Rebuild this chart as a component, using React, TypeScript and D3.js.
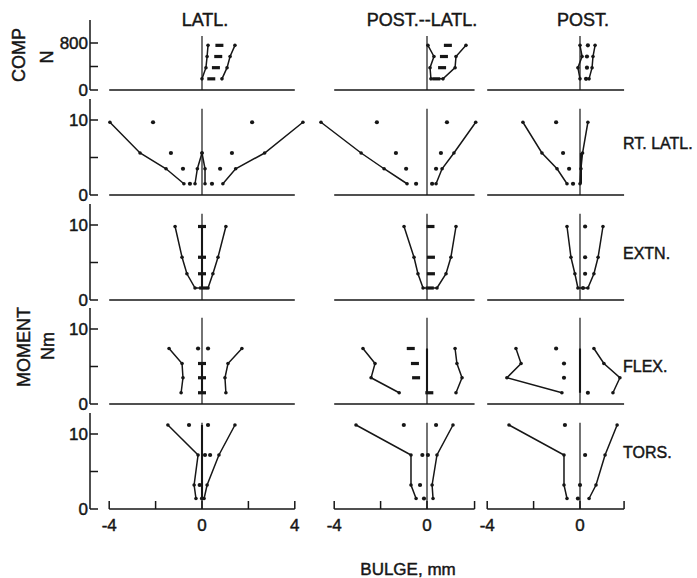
import React, { useEffect, useRef } from "react";
import * as d3 from "d3";

// titles
const columnTitles = ["LATL.", "POST.--LATL.", "POST."];
const rowTitles = ["", "RT. LATL.", "EXTN.", "FLEX.", "TORS."];

// load / moment levels at which bulge was measured
const compLoads = [190, 380, 570, 760];
const rtLatlMoments = [1.5, 3.5, 5.6, 9.7];
const extnMoments = [1.6, 3.5, 5.7, 9.8];
const flexMoments = [1.5, 3.5, 5.4, 7.4];
const torsMoments = [1.4, 3.2, 7.2, 11.2];

// axis ticks
const compTicks = [0, 400, 800];
const momentTicks = [0, 5, 10];
const bulgeTicks = [[-4, -2, 0, 2, 4], [-4, -2, 0, 2.05], [-4, -2, 0, 1.9]];
const bulgeLabels = [[-4, 0, 4], [-4, 0], [-4, 0]];

// bulge (mm), bottom level -> top level
// COMP
const compLatlLeft = [0.0, 0.17, 0.22, 0.26];
const compLatlMid = [0.4, 0.6, 0.7, 0.75];
const compLatlRight = [0.86, 1.08, 1.21, 1.42];
const compPlLeft = [0.17, 0.13, 0.3, 0.04];
const compPlMid = [0.4, 0.65, 0.73, 0.9];
const compPlRight = [0.69, 1.21, 1.25, 1.68];
const compPostLeft = [0.0, -0.09, 0.09, 0.0];
const compPostMid = [0.26, 0.3, 0.3, 0.34];
const compPostRight = [0.39, 0.52, 0.56, 0.65];
// RT. LATL.
const rtLatlLeft = [-0.78, -1.55, -2.67, -3.97];
const rtLatlLeftDots = [-0.52, -0.82, -1.34, -2.11];
const rtLatlInnerL = [-0.3, -0.2, 0.0, null];
const rtLatlInnerR = [0.13, 0.13, 0.0, null];
const rtLatlRightDots = [0.43, 0.78, 1.29, 2.16];
const rtLatlRight = [0.9, 1.45, 2.7, 4.35];
const rtPlLeft = [-0.86, -1.85, -2.84, -4.57];
const rtPlLeftDots = [-0.47, -0.9, -1.34, -2.16];
const rtPlRightDots = [0.22, 0.39, 0.6, 0.86];
const rtPlRight = [0.39, 0.65, 1.16, 2.1];
const rtPostLeft = [-0.56, -0.99, -1.64, -2.46];
const rtPostLeftDots = [-0.3, -0.47, -0.73, -1.03];
const rtPostRight = [0.0, 0.04, 0.11, 0.34];
const rtPostCenter = [0.04, 0.04, 0.04, null];
// EXTN.
const extLatlLeft = [-0.3, -0.65, -0.86, -1.16];
const extLatlMid = [0.05, 0.0, 0.0, 0.0];
const extLatlRight = [0.26, 0.47, 0.69, 1.03];
const extPlLeft = [-0.17, -0.39, -0.56, -0.99];
const extPlMid = [0.12, 0.17, 0.17, 0.15];
const extPlRight = [0.43, 0.82, 1.03, 1.25];
const extPostLeft = [-0.09, -0.22, -0.39, -0.56];
const extPostMid = [0.13, 0.22, 0.22, 0.22];
const extPostRight = [0.34, 0.6, 0.78, 0.99];
// FLEX.
const flxLatlLeft = [-0.9, -0.82, -0.86, -1.42];
const flxLatlMid = [0.0, 0.0, 0.0, null];
const flxLatlDotsA = [null, null, null, -0.17];
const flxLatlDotsB = [null, null, null, 0.26];
const flxLatlRight = [1.03, 0.99, 1.12, 1.72];
const flxPlLeft = [-1.2, -2.41, -2.24, -2.76];
const flxPlMid = [0.1, -0.47, -0.52, -0.7];
const flxPlRight = [1.25, 1.51, 1.29, 1.21];
const flxPostLeft = [-0.78, -3.15, -2.54, -2.76];
const flxPostMid = [0.34, -0.69, -0.69, -1.03];
const flxPostRight = [1.42, 1.72, 1.03, 0.6];
const zeroCenter = [0, 0, 0, 0];
const zeroCenter3 = [0, 0, 0, null];
// TORS.
const trsLatlLeft = [-0.26, -0.34, -0.17, -1.47];
const trsLatlDotsA = [0.0, -0.1, 0.13, -0.56];
const trsLatlDotsB = [null, null, 0.35, 0.26];
const trsLatlRight = [0.09, 0.22, 0.73, 1.42];
const trsPlLeft = [-0.47, -0.69, -0.69, -3.06];
const trsPlDotsA = [-0.13, -0.3, -0.2, -1.0];
const trsPlDotsB = [null, null, 0.04, 0.39];
const trsPlRight = [0.26, 0.22, 0.43, 1.12];
const trsPostLeft = [-0.56, -0.69, -0.69, -3.06];
const trsPostDots = [-0.09, 0.0, 0.22, -0.65];
const trsPostRight = [0.39, 0.69, 1.08, 1.6];

type Kind = "line" | "dots" | "dashes" | "thick" | "u";
type Series = { kind: Kind; values: (number | null)[]; values2?: (number | null)[] };
type Panel = { row: number; col: number; levels: number[]; series: Series[] };

const panels: Panel[] = [
  { row: 0, col: 0, levels: compLoads, series: [
    { kind: "line", values: compLatlLeft },
    { kind: "dashes", values: compLatlMid },
    { kind: "line", values: compLatlRight }] },
  { row: 0, col: 1, levels: compLoads, series: [
    { kind: "u", values: compPlLeft, values2: compPlRight },
    { kind: "dashes", values: compPlMid }] },
  { row: 0, col: 2, levels: compLoads, series: [
    { kind: "line", values: compPostLeft },
    { kind: "dots", values: compPostMid },
    { kind: "line", values: compPostRight }] },
  { row: 1, col: 0, levels: rtLatlMoments, series: [
    { kind: "line", values: rtLatlLeft },
    { kind: "dots", values: rtLatlLeftDots },
    { kind: "line", values: rtLatlInnerL },
    { kind: "line", values: rtLatlInnerR },
    { kind: "dots", values: rtLatlRightDots },
    { kind: "line", values: rtLatlRight }] },
  { row: 1, col: 1, levels: rtLatlMoments, series: [
    { kind: "line", values: rtPlLeft },
    { kind: "dots", values: rtPlLeftDots },
    { kind: "dots", values: rtPlRightDots },
    { kind: "line", values: rtPlRight }] },
  { row: 1, col: 2, levels: rtLatlMoments, series: [
    { kind: "line", values: rtPostLeft },
    { kind: "dots", values: rtPostLeftDots },
    { kind: "thick", values: rtPostCenter },
    { kind: "line", values: rtPostRight }] },
  { row: 2, col: 0, levels: extnMoments, series: [
    { kind: "u", values: extLatlLeft, values2: extLatlRight },
    { kind: "thick", values: zeroCenter },
    { kind: "dashes", values: extLatlMid }] },
  { row: 2, col: 1, levels: extnMoments, series: [
    { kind: "u", values: extPlLeft, values2: extPlRight },
    { kind: "dashes", values: extPlMid }] },
  { row: 2, col: 2, levels: extnMoments, series: [
    { kind: "u", values: extPostLeft, values2: extPostRight },
    { kind: "dots", values: extPostMid }] },
  { row: 3, col: 0, levels: flexMoments, series: [
    { kind: "line", values: flxLatlLeft },
    { kind: "thick", values: zeroCenter3 },
    { kind: "dashes", values: flxLatlMid },
    { kind: "dots", values: flxLatlDotsA },
    { kind: "dots", values: flxLatlDotsB },
    { kind: "line", values: flxLatlRight }] },
  { row: 3, col: 1, levels: flexMoments, series: [
    { kind: "line", values: flxPlLeft },
    { kind: "thick", values: zeroCenter },
    { kind: "dashes", values: flxPlMid },
    { kind: "line", values: flxPlRight }] },
  { row: 3, col: 2, levels: flexMoments, series: [
    { kind: "line", values: flxPostLeft },
    { kind: "thick", values: zeroCenter },
    { kind: "dots", values: flxPostMid },
    { kind: "line", values: flxPostRight }] },
  { row: 4, col: 0, levels: torsMoments, series: [
    { kind: "line", values: trsLatlLeft },
    { kind: "thick", values: zeroCenter },
    { kind: "dots", values: trsLatlDotsA },
    { kind: "dots", values: trsLatlDotsB },
    { kind: "line", values: trsLatlRight }] },
  { row: 4, col: 1, levels: torsMoments, series: [
    { kind: "line", values: trsPlLeft },
    { kind: "dots", values: trsPlDotsA },
    { kind: "dots", values: trsPlDotsB },
    { kind: "line", values: trsPlRight }] },
  { row: 4, col: 2, levels: torsMoments, series: [
    { kind: "line", values: trsPostLeft },
    { kind: "dots", values: trsPostDots },
    { kind: "line", values: trsPostRight }] },
];

const INK = "#161616";
const FONT = "'Liberation Sans', Arial, Helvetica, sans-serif";

function App() {
  const svgRef = useRef<SVGSVGElement>(null);

  useEffect(() => {
    const svg = d3.select(svgRef.current);
    svg.selectAll("*").remove();

    const width = 697;
    const height = 578;
    svg.append("rect").attr("width", width).attr("height", height).attr("fill", "#fff");

    // layout
    const rowBase = [90, 195, 300, 404, 509];
    const zeroX = [202, 427, 580];
    const mm = 23.2;
    const colExtent = [[-4, 4], [-4, 2.05], [-4, 1.9]];
    const axisX = 90;

    const xScales = colExtent.map((ext, i) =>
      d3.scaleLinear().domain(ext).range([zeroX[i] + ext[0] * mm, zeroX[i] + ext[1] * mm])
    );
    const yScales = rowBase.map((b, r) =>
      r === 0
        ? d3.scaleLinear().domain([0, 800]).range([b, b - 47])
        : d3.scaleLinear().domain([0, 10]).range([b, b - 75])
    );

    const g = svg.append("g").attr("fill", "none").attr("stroke", INK);

    const label = (s: string, x: number, y: number, size: number, anchor = "middle") =>
      svg.append("text").attr("x", x).attr("y", y).attr("text-anchor", anchor)
        .attr("font-family", FONT).attr("font-size", size).attr("fill", INK)
        .attr("stroke", INK).attr("stroke-width", 0.45).text(s);

    // left y axes
    rowBase.forEach((b, r) => {
      const y = yScales[r];
      const top = r === 0 ? 20 : b - 96;
      g.append("line").attr("x1", axisX).attr("x2", axisX).attr("y1", top).attr("y2", b)
        .attr("stroke-width", 1.5);
      const ticks = r === 0 ? compTicks : momentTicks;
      ticks.forEach(t => {
        g.append("line").attr("x1", axisX).attr("x2", axisX + 8)
          .attr("y1", y(t)).attr("y2", y(t)).attr("stroke-width", 1.5);
      });
      [ticks[0], ticks[2]].forEach(t => {
        label(String(t), axisX - 2, y(t), 17, "end").attr("dy", "0.36em");
      });
    });

    // baselines, zero lines, bottom axes
    rowBase.forEach((b, r) => {
      xScales.forEach((x, c) => {
        const [x0, x1] = x.range();
        g.append("line").attr("x1", x0).attr("x2", x1).attr("y1", b).attr("y2", b)
          .attr("stroke-width", 1.7);
        const zTop = r === 0 ? yScales[0](920) : yScales[r](11.5);
        g.append("line").attr("x1", x(0)).attr("x2", x(0)).attr("y1", b).attr("y2", zTop)
          .attr("stroke-width", 1.2);
        if (r === 4) {
          bulgeTicks[c].forEach(t => {
            g.append("line").attr("x1", x(t)).attr("x2", x(t)).attr("y1", b).attr("y2", b - 8)
              .attr("stroke-width", 1.5);
          });
          bulgeLabels[c].forEach(t => {
            label(String(t), x(t), b + 22, 17);
          });
        }
      });
    });

    // data
    const line = d3.line<[number, number]>().x(d => d[0]).y(d => d[1]);
    const marks = (ps: [number, number][], r: number) =>
      g.selectAll(null).data(ps).enter().append("circle")
        .attr("cx", d => d[0]).attr("cy", d => d[1]).attr("r", r)
        .attr("fill", INK).attr("stroke", "none");

    panels.forEach(p => {
      const x = xScales[p.col];
      const y = yScales[p.row];
      const pts = (vals: (number | null)[]) =>
        p.levels
          .map((lv, i) => (vals[i] == null ? null : ([x(vals[i] as number), y(lv)] as [number, number])))
          .filter((d): d is [number, number] => d !== null);

      p.series.forEach(s => {
        if (s.kind === "line") {
          const ps = pts(s.values);
          g.append("path").attr("d", line(ps)).attr("stroke-width", 1.5);
          marks(ps, 1.8);
        } else if (s.kind === "thick") {
          g.append("path").attr("d", line(pts(s.values))).attr("stroke-width", 2.1);
        } else if (s.kind === "u") {
          const ps = pts(s.values).reverse().concat(pts(s.values2 || []));
          g.append("path").attr("d", line(ps)).attr("stroke-width", 1.5);
          marks(ps, 1.8);
        } else if (s.kind === "dots") {
          marks(pts(s.values), 2.1);
        } else if (s.kind === "dashes") {
          g.selectAll(null).data(pts(s.values)).enter().append("line")
            .attr("x1", d => d[0] - 4).attr("x2", d => d[0] + 4)
            .attr("y1", d => d[1]).attr("y2", d => d[1]).attr("stroke-width", 3.2);
        }
      });
    });

    // texts
    const colTitleX = [205, 422, 583];
    columnTitles.forEach((t, i) => label(t, colTitleX[i], 26, 18));
    const rowTitleY = [0, 149, 259, 372, 458];
    rowTitles.forEach((t, i) => { if (t) label(t, 623, rowTitleY[i], 16, "start"); });
    const vlabel = (s: string, x: number, y: number) =>
      label(s, 0, 0, 18).attr("transform", `translate(${x},${y}) rotate(-90)`).attr("dy", "0.36em");
    vlabel("COMP", 19, 55);
    vlabel("N", 47, 57);
    vlabel("MOMENT", 24, 347);
    vlabel("Nm", 48, 346);
    label("BULGE, mm", 408, 575, 17);
  }, []);

  return (
    <svg
      ref={svgRef}
      width={697}
      height={578}
      style={{ position: "absolute", left: 0, top: 0, display: "block" }}
    />
  );
}

export default App;
